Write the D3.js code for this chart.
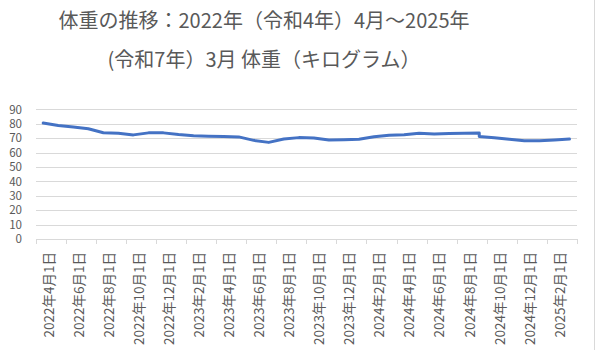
<!DOCTYPE html>
<html><head><meta charset="utf-8">
<script src="https://cdn.jsdelivr.net/npm/d3@7"></script>
<style>
html,body{margin:0;padding:0;background:#fff;}
svg{display:block;}
text{font-family:"Noto Sans CJK JP","Noto Sans",sans-serif;}
</style></head>
<body>
<script>
// ---- data ----
const titleLines = ["体重の推移：2022年（令和4年）4月～2025年", "(令和7年）3月 体重（キログラム）"];
const monthCategories = [
 "2022-04","2022-05","2022-06","2022-07","2022-08","2022-09","2022-10","2022-11","2022-12",
 "2023-01","2023-02","2023-03","2023-04","2023-05","2023-06","2023-07","2023-08","2023-09","2023-10","2023-11","2023-12",
 "2024-01","2024-02","2024-03","2024-04","2024-05","2024-06","2024-07","2024-08","2024-09","2024-10","2024-11","2024-12",
 "2025-01","2025-02","2025-03"];
const pointMonths = [
 "2022-04","2022-05","2022-06","2022-07","2022-08","2022-09","2022-10","2022-11","2022-12",
 "2023-01","2023-02","2023-03","2023-04","2023-05","2023-06","2023-07","2023-08","2023-09","2023-10","2023-11","2023-12",
 "2024-01","2024-02","2024-03","2024-04","2024-05","2024-06","2024-07","2024-08","2024-09","2024-09","2024-10","2024-11","2024-12",
 "2025-01","2025-02","2025-03"];
const weights = [
 80.5,78.8,77.7,76.6,73.8,73.5,72.3,73.7,73.7,
 72.5,71.7,71.4,71.2,70.9,68.5,67.1,69.4,70.4,70.2,68.7,69.0,
 69.3,71.0,72.1,72.4,73.4,72.9,73.2,73.5,73.6,71.1,70.3,69.2,68.3,
 68.3,68.8,69.4];
const tickLabelMonths = ["2022-04","2022-06","2022-08","2022-10","2022-12","2023-02","2023-04","2023-06","2023-08",
 "2023-10","2023-12","2024-02","2024-04","2024-06","2024-08","2024-10","2024-12","2025-02"];
const tickLabels = ["2022年4月1日","2022年6月1日","2022年8月1日","2022年10月1日","2022年12月1日","2023年2月1日",
 "2023年4月1日","2023年6月1日","2023年8月1日","2023年10月1日","2023年12月1日","2024年2月1日","2024年4月1日",
 "2024年6月1日","2024年8月1日","2024年10月1日","2024年12月1日","2025年2月1日"];
const yTicks = [0,10,20,30,40,50,60,70,80,90];

// ---- layout ----
const W = 596, H = 356;
const plot = {left: 35.7, right: 577, top: 109.4, bottom: 239};
const textColor = "#595959", gridColor = "#D9D9D9", lineColor = "#4472C4";

const svg = d3.select("body").append("svg").attr("width", W).attr("height", H);

// chart border (right edge visible)
svg.append("line").attr("x1", 594.5).attr("x2", 594.5).attr("y1", 0).attr("y2", 350)
  .attr("stroke", gridColor).attr("stroke-width", 1);

// title
svg.append("g").selectAll("text").data(titleLines).join("text")
  .attr("x", 264).attr("y", (d, i) => 28 + i * 39)
  .attr("text-anchor", "middle").attr("fill", textColor)
  .attr("font-size", 20).text(d => d);

const x = d3.scaleBand().domain(monthCategories).range([plot.left, plot.right]).padding(0);
const y = d3.scaleLinear().domain([0, 90]).range([plot.bottom, plot.top]);

// gridlines
const grid = svg.append("g").attr("transform", `translate(${plot.left},0)`)
  .call(d3.axisLeft(y).tickValues(yTicks.filter(v => v > 0)).tickSize(-(plot.right - plot.left)).tickFormat(""));
grid.select(".domain").remove();
grid.selectAll("line").attr("stroke", gridColor).attr("shape-rendering", "crispEdges");

// y labels
const yAx = svg.append("g").attr("transform", `translate(22,0)`)
  .call(d3.axisLeft(y).tickValues(yTicks).tickSize(0).tickPadding(0));
yAx.select(".domain").remove();
yAx.selectAll("text").attr("fill", textColor).attr("font-size", 11.6)
  .attr("font-family", '"Liberation Sans",Arial,sans-serif').attr("text-anchor", "end");

// x axis line and ticks (every 2 months at band boundaries)
const xb = d3.scaleLinear().domain([0, monthCategories.length]).range([plot.left, plot.right]);
const xAx = svg.append("g").attr("transform", `translate(0,${plot.bottom})`)
  .call(d3.axisBottom(xb).tickValues(d3.range(0, monthCategories.length + 1, 2)).tickSize(5).tickSizeOuter(0).tickFormat(""));
xAx.select(".domain").attr("stroke", gridColor).attr("shape-rendering", "crispEdges");
xAx.selectAll("line").attr("stroke", gridColor).attr("shape-rendering", "crispEdges");

// x labels
svg.append("g").selectAll("text").data(tickLabelMonths).join("text")
  .attr("transform", (d, i) => `translate(${x(d) + x.bandwidth() / 2 + 4.3},252) rotate(-90)`)
  .attr("text-anchor", "end").attr("dominant-baseline", "central")
  .attr("fill", textColor).attr("font-size", 13.5)
  .text((d, i) => tickLabels[i]);

// line
const pts = pointMonths.map((m, i) => ({m, v: weights[i]}));
svg.append("path").datum(pts)
  .attr("fill", "none").attr("stroke", lineColor).attr("stroke-width", 3)
  .attr("stroke-linejoin", "round").attr("stroke-linecap", "round")
  .attr("d", d3.line().x(d => x(d.m) + x.bandwidth() / 2).y(d => y(d.v)));
</script>
</body></html>
